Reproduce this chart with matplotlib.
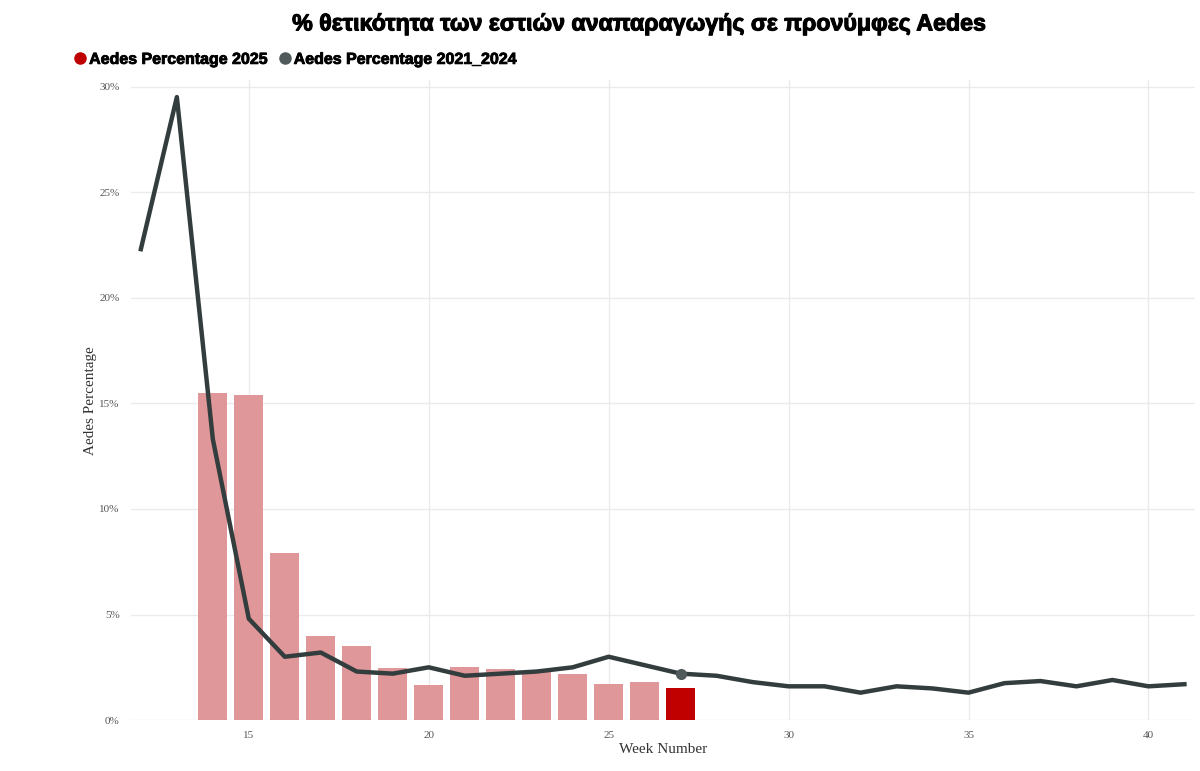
'''Aedes positivity chart'''

import matplotlib.pyplot as plt
import matplotlib.patheffects as pe
from matplotlib.lines import Line2D

bar_weeks = list(range(14, 28))
pct_2025 = [15.5, 15.4, 7.9, 4.0, 3.5, 2.45, 1.65, 2.5, 2.4, 2.3, 2.2, 1.7, 1.8, 1.5]

line_weeks = list(range(12, 42))
pct_2021_2024 = [22.3, 29.5, 13.3, 4.8, 3.0, 3.2, 2.3, 2.2, 2.5, 2.1,
                 2.2, 2.3, 2.5, 3.0, 2.6, 2.2, 2.1, 1.8, 1.6, 1.6,
                 1.3, 1.6, 1.5, 1.3, 1.75, 1.85, 1.6, 1.9, 1.6, 1.7]

yticks = [0, 5, 10, 15, 20, 25, 30]
xticks = [15, 20, 25, 30, 35, 40]

bar_light = '#e09799'
bar_dark = '#c00000'
line_col = '#333d3d'

fig = plt.figure(figsize=(12, 7.71), dpi=100)
ax = fig.add_axes([0.109, 0.066, 0.887, 0.83])

colors = [bar_light] * (len(bar_weeks) - 1) + [bar_dark]
ax.bar(bar_weeks, pct_2025, width=0.8, color=colors, zorder=2)
ax.plot(line_weeks, pct_2021_2024, color=line_col, lw=3.2, zorder=3,
        solid_joinstyle='round')
last = bar_weeks[-1]
ax.plot([last], [pct_2021_2024[line_weeks.index(last)]], 'o', color='#505a5a',
        ms=7, zorder=4)

ax.set_xlim(11.72, 41.3)
ax.set_ylim(0, 30.3)
ax.set_yticks(yticks)
ax.set_yticklabels(['{}%'.format(v) for v in yticks])
ax.set_xticks(xticks)
ax.grid(color='#ebebeb', lw=1, zorder=0)
ax.set_axisbelow(True)
for s in ax.spines.values():
    s.set_visible(False)
ax.tick_params(length=0, labelsize=8, labelcolor='#555555', pad=8)
for lab in ax.get_xticklabels() + ax.get_yticklabels():
    lab.set_family('Liberation Serif')
ax.set_ylabel('Aedes Percentage', family='Liberation Serif', fontsize=11,
              color='#333333', labelpad=2)
ax.set_xlabel('Week Number', family='Liberation Serif', fontsize=11,
              color='#333333', labelpad=2)

heavy = [pe.withStroke(linewidth=0.8, foreground='black')]
fig.text(0.531, 0.969, '% θετικότητα των εστιών αναπαραγωγής σε προνύμφες Aedes',
         ha='center', va='center', fontsize=16.7, fontweight='bold',
         family='Liberation Sans', path_effects=heavy)

handles = [Line2D([], [], marker='o', ls='', color=bar_dark, ms=8),
           Line2D([], [], marker='o', ls='', color='#505a5a', ms=8)]
leg = fig.legend(handles, ['Aedes Percentage 2025', 'Aedes Percentage 2021_2024'],
                 loc='center left', bbox_to_anchor=(0.045, 0.923), ncol=2,
                 frameon=False, handletextpad=-0.2, columnspacing=0.3,
                 handlelength=1.5,
                 prop={'family': 'Liberation Sans', 'weight': 'bold', 'size': 11.5})
for t in leg.get_texts():
    t.set_path_effects([pe.withStroke(linewidth=0.6, foreground='black')])

plt.savefig('out.png')
